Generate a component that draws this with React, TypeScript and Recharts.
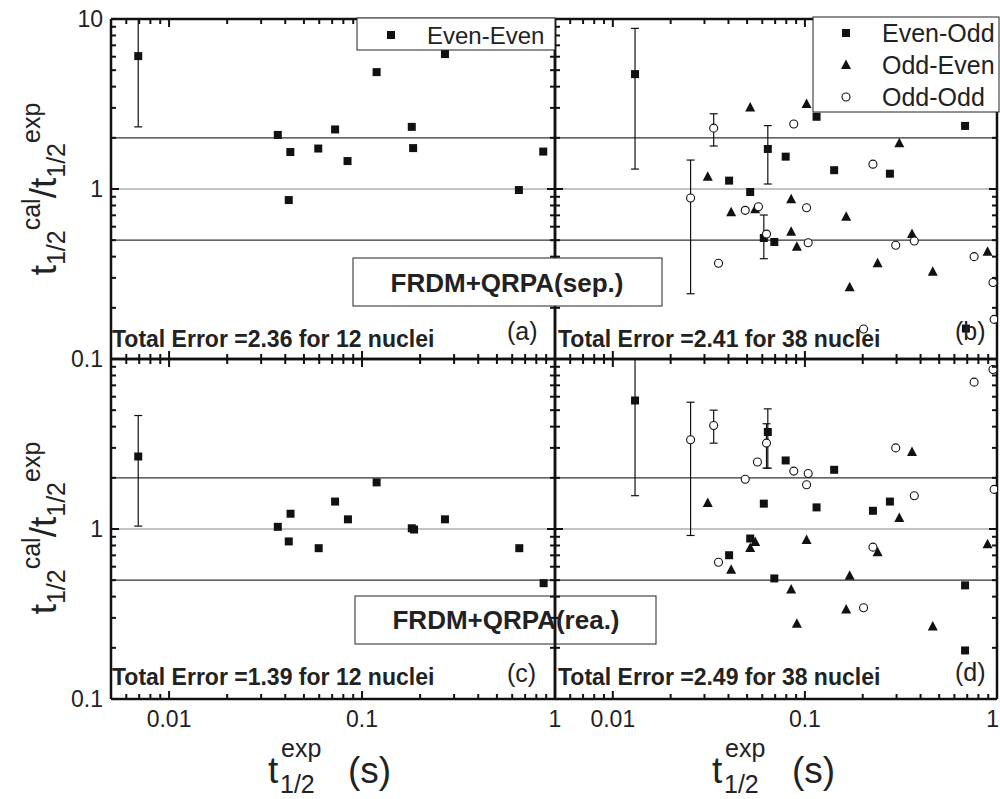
import React from "react";
import { ScatterChart, Scatter, XAxis, YAxis, ReferenceLine, ErrorBar } from "recharts";

const W = 1000;
const H = 799;
const FONT = "'Liberation Sans', Arial, Helvetica, sans-serif";

// axis ticks (log scale, majors get labels)
const X_TICKS = [0.005, 0.006, 0.007, 0.008, 0.009, 0.01, 0.02, 0.03, 0.04, 0.05, 0.06, 0.07, 0.08, 0.09, 0.1, 0.2, 0.3, 0.4, 0.5, 0.6, 0.7, 0.8, 0.9, 1];
const Y_TICKS = [0.1, 0.2, 0.3, 0.4, 0.5, 0.6, 0.7, 0.8, 0.9, 1, 2, 3, 4, 5, 6, 7, 8, 9, 10];
const X_DOMAIN = [0.005, 1];
const Y_DOMAIN = [0.1, 10];
const GUIDES = [2, 1, 0.5];

// [t1/2 exp (s), t_cal / t_exp]
const evenEvenSep = [
  [0.00692, 6.05], [0.0366, 2.08], [0.0425, 1.65], [0.0417, 0.861], [0.0593, 1.73], [0.0725, 2.24], [0.0841, 1.46],
  [0.119, 4.87], [0.181, 2.32], [0.184, 1.74], [0.269, 6.22], [0.65, 0.986], [0.869, 1.66],
];
const evenEvenRea = [
  [0.00692, 2.67], [0.0366, 1.03], [0.0426, 1.23], [0.0417, 0.845], [0.0596, 0.771], [0.0725, 1.45], [0.0845, 1.14],
  [0.119, 1.88], [0.181, 1.01], [0.186, 0.993], [0.269, 1.14], [0.653, 0.771], [0.873, 0.48],
];
const evenOddSep = [
  [0.01305, 4.74], [0.0403, 1.12], [0.0519, 0.96], [0.0641, 1.72], [0.0794, 1.55], [0.115, 2.66], [0.142, 1.29],
  [0.277, 1.23], [0.682, 2.35], [0.0611, 0.515], [0.0693, 0.488], [0.689, 0.151],
];
const oddEvenSep = [
  [0.0312, 1.18], [0.0413, 0.729], [0.0519, 3.02], [0.0551, 0.759], [0.0848, 0.869], [0.0848, 0.561], [0.0908, 0.458],
  [0.102, 3.16], [0.164, 0.687], [0.171, 0.264], [0.239, 0.366], [0.31, 1.86], [0.361, 0.543], [0.463, 0.326], [0.893, 0.428],
];
const oddOddSep = [
  [0.0254, 0.886], [0.0335, 2.28], [0.0355, 0.366], [0.0489, 0.749], [0.0573, 0.787], [0.0631, 0.543], [0.0875, 2.41],
  [0.102, 0.776], [0.104, 0.483], [0.202, 0.15], [0.226, 1.4], [0.297, 0.467], [0.371, 0.494], [0.76, 0.4], [0.953, 0.282], [0.966, 0.171],
];
const evenOddRea = [
  [0.01305, 5.7], [0.0641, 3.72], [0.0794, 2.53], [0.142, 2.23], [0.0611, 1.41], [0.115, 1.34], [0.226, 1.28],
  [0.277, 1.45], [0.0519, 0.879], [0.0403, 0.701], [0.0693, 0.512], [0.682, 0.466], [0.682, 0.193],
];
const oddEvenRea = [
  [0.0312, 1.42], [0.0413, 0.575], [0.0519, 0.774], [0.0551, 0.838], [0.0848, 0.441], [0.0908, 0.277], [0.102, 0.863],
  [0.164, 0.336], [0.171, 0.53], [0.239, 0.731], [0.31, 1.16], [0.361, 2.84], [0.463, 0.267], [0.893, 0.814],
];
const oddOddRea = [
  [0.0254, 3.35], [0.0335, 4.06], [0.0631, 3.2], [0.0566, 2.48], [0.0489, 1.96], [0.0875, 2.19], [0.104, 2.12],
  [0.102, 1.82], [0.0355, 0.638], [0.202, 0.344], [0.226, 0.782], [0.297, 3.0], [0.371, 1.57], [0.76, 7.31], [0.953, 8.67], [0.966, 1.71],
];

// error bars: [x, y, low, high]
const errSepA = [[0.00692, 6.05, 2.32, 10]];
const errReaC = [[0.00692, 2.67, 1.04, 4.65]];
const errSepB = [
  [0.01305, 4.74, 1.31, 8.81], [0.0641, 1.72, 1.07, 2.36], [0.0611, 0.515, 0.389, 0.703],
  [0.0254, 0.886, 0.242, 1.48], [0.0335, 2.28, 1.79, 2.77],
];
const errReaD = [
  [0.01305, 5.7, 1.57, 10], [0.0641, 3.72, 2.28, 5.09], [0.0631, 3.2, 2.28, 4.16],
  [0.0254, 3.35, 0.916, 5.57], [0.0335, 4.06, 3.2, 5.0],
];

const toRows = (pts) => pts.map(([x, y]) => ({ x, y }));
const toErrRows = (pts) => pts.map(([x, y, lo, hi]) => ({ x, y, err: [y - lo, hi - y] }));

const isMajor = (v) => Math.abs(Math.log10(v) - Math.round(Math.log10(v))) < 1e-6;

const Square = (p) => <rect x={p.cx - 4} y={p.cy - 4} width={8} height={8} fill="#111" />;
const Triangle = (p) => (
  <polygon points={`${p.cx},${p.cy - 5.5} ${p.cx - 5},${p.cy + 4} ${p.cx + 5},${p.cy + 4}`} fill="#111" />
);
const Circle = (p) => <circle cx={p.cx} cy={p.cy} r={4} fill="#fff" stroke="#111" strokeWidth={1.1} />;
const Empty = () => <g />;

function XTick(props) {
  const { x, y, payload, dir, labels } = props;
  const v = payload.value;
  const major = isMajor(v);
  // keep the last label inside the page
  const atEdge = x > W - 8;
  return (
    <g>
      <line x1={x} y1={y} x2={x} y2={y + dir * (major ? 8 : 5)} stroke="#111" strokeWidth={2} />
      {labels && major && (
        <text x={atEdge ? W - 1 : x} y={y + 28} textAnchor={atEdge ? "end" : "middle"} fontSize={23} fontFamily={FONT} fill="#222">
          {String(v)}
        </text>
      )}
    </g>
  );
}

function YTick(props) {
  const { x, y, payload, dir, labels } = props;
  const v = payload.value;
  const major = isMajor(v);
  return (
    <g>
      <line x1={x} y1={y} x2={x + dir * (major ? 8 : 5)} y2={y} stroke="#111" strokeWidth={2} />
      {labels && labels.includes(v) && (
        <text x={x - 8} y={y + 8} textAnchor="end" fontSize={23} fontFamily={FONT} fill="#222">
          {String(v)}
        </text>
      )}
    </g>
  );
}

const axisLine = { stroke: "#111", strokeWidth: 2.5 };

// axes are 1px thick so Recharts draws them; margins shrink by that pixel
function Panel({ left, top, width, height, series, errs, xLabels, yLabels }) {
  const margin = { left: left - 1, top: top - 1, right: W - left - width - 1, bottom: H - top - height - 1 };
  return (
    <div style={{ position: "absolute", left: 0, top: 0 }}>
      <ScatterChart width={W} height={H} margin={margin}>
        <XAxis xAxisId="b" dataKey="x" type="number" scale="log" domain={X_DOMAIN} allowDataOverflow
          ticks={X_TICKS} interval={0} height={1} tickSize={0} tickMargin={0} axisLine={axisLine} tickLine={false}
          tick={(p) => <XTick {...p} dir={-1} labels={xLabels} />} />
        <XAxis xAxisId="t" orientation="top" dataKey="x" type="number" scale="log" domain={X_DOMAIN} allowDataOverflow
          ticks={X_TICKS} interval={0} height={1} tickSize={0} tickMargin={0} axisLine={axisLine} tickLine={false}
          tick={(p) => <XTick {...p} dir={1} labels={false} />} />
        <YAxis yAxisId="l" dataKey="y" type="number" scale="log" domain={Y_DOMAIN} allowDataOverflow
          ticks={Y_TICKS} interval={0} width={1} tickSize={0} tickMargin={0} axisLine={axisLine} tickLine={false}
          tick={(p) => <YTick {...p} dir={1} labels={yLabels} />} />
        <YAxis yAxisId="r" orientation="right" dataKey="y" type="number" scale="log" domain={Y_DOMAIN} allowDataOverflow
          ticks={Y_TICKS} interval={0} width={1} tickSize={0} tickMargin={0} axisLine={axisLine} tickLine={false}
          tick={(p) => <YTick {...p} dir={-1} labels={null} />} />
        {GUIDES.map((g) => (
          <ReferenceLine key={g} xAxisId="b" yAxisId="l" y={g} stroke={g === 1 ? "#888" : "#333"} strokeWidth={1.2} />
        ))}
        <Scatter xAxisId="b" yAxisId="l" data={toErrRows(errs)} shape={Empty} isAnimationActive={false}>
          <ErrorBar dataKey="err" direction="y" width={4} stroke="#111" strokeWidth={1.2} />
        </Scatter>
        {series.map((s, i) => (
          <Scatter key={i} xAxisId="b" yAxisId="l" data={toRows(s.data)} shape={s.shape} isAnimationActive={false} />
        ))}
      </ScatterChart>
    </div>
  );
}

function YTitle({ cx, cy }) {
  return (
    <text transform={`translate(${cx},${cy}) rotate(-90)`} textAnchor="middle" fontFamily={FONT} fontSize={37} fill="#222">
      <tspan>t</tspan>
      <tspan fontSize={25} dy={9}>1/2</tspan>
      <tspan fontSize={25} dy={-25}>cal</tspan>
      <tspan dy={16}>/t</tspan>
      <tspan fontSize={25} dy={9}>1/2</tspan>
      <tspan fontSize={25} dy={-25}>exp</tspan>
    </text>
  );
}

function XTitle({ x0 }) {
  return (
    <text fontFamily={FONT} fill="#222">
      <tspan x={x0} y={783} fontSize={37}>t</tspan>
      <tspan x={x0 + 12} y={793} fontSize={25}>1/2</tspan>
      <tspan x={x0 + 13} y={757} fontSize={25}>exp</tspan>
      <tspan x={x0 + 80} y={783} fontSize={37}>(s)</tspan>
    </text>
  );
}

function Overlay() {
  const bold = { fontFamily: FONT, fontWeight: 700, fill: "#222" };
  const reg = { fontFamily: FONT, fill: "#222" };
  return (
    <svg width={W} height={H} style={{ position: "absolute", left: 0, top: 0 }}>
      {/* legend (a) */}
      <rect x={357} y={18} width={198} height={32} fill="#fff" stroke="#222" strokeWidth={1} />
      <Square cx={391} cy={35} />
      <text x={427} y={44} fontSize={24} {...reg}>Even-Even</text>

      {/* legend (b) */}
      <rect x={813} y={17} width={186} height={95} fill="#fff" stroke="#222" strokeWidth={1} />
      <Square cx={846} cy={33} />
      <text x={882} y={42} fontSize={25} {...reg}>Even-Odd</text>
      <Triangle cx={846} cy={65} />
      <text x={882} y={74} fontSize={25} {...reg}>Odd-Even</text>
      <Circle cx={846} cy={97} />
      <text x={882} y={106} fontSize={25} {...reg}>Odd-Odd</text>

      {/* model boxes */}
      <rect x={353} y={258} width={309} height={48} fill="#fff" stroke="#222" strokeWidth={1} />
      <text x={507} y={292} textAnchor="middle" fontSize={26} {...bold}>FRDM+QRPA(sep.)</text>
      <rect x={355} y={596} width={301} height={48} fill="none" stroke="#222" strokeWidth={1} />
      <text x={506} y={629} textAnchor="middle" fontSize={26} {...bold}>FRDM+QRPA(rea.)</text>

      {/* totals and panel tags */}
      <text x={112} y={347} fontSize={23} {...bold}>Total Error =2.36 for 12 nuclei</text>
      <text x={558} y={347} fontSize={23} {...bold}>Total Error =2.41 for 38 nuclei</text>
      <text x={112} y={685} fontSize={23} {...bold}>Total Error =1.39 for 12 nuclei</text>
      <text x={558} y={685} fontSize={23} {...bold}>Total Error =2.49 for 38 nuclei</text>
      <text x={507} y={340} fontSize={25} {...reg}>(a)</text>
      <text x={955} y={340} fontSize={25} {...reg}>(b)</text>
      <text x={507} y={682} fontSize={25} {...reg}>(c)</text>
      <text x={955} y={681} fontSize={25} {...reg}>(d)</text>

      <YTitle cx={56} cy={189} />
      <YTitle cx={56} cy={528} />
      <XTitle x0={268} />
      <XTitle x0={712} />
    </svg>
  );
}

export default function App() {
  return (
    <div style={{ position: "absolute", left: 0, top: 0, width: W, height: H, background: "#fff" }}>
      <Panel left={111} top={19} width={444} height={340}
        series={[{ data: evenEvenSep, shape: Square }]} errs={errSepA} xLabels={false} yLabels={[10, 1, 0.1]} />
      <Panel left={555} top={19} width={442} height={340}
        series={[{ data: evenOddSep, shape: Square }, { data: oddEvenSep, shape: Triangle }, { data: oddOddSep, shape: Circle }]}
        errs={errSepB} xLabels={false} yLabels={null} />
      <Panel left={111} top={359} width={444} height={340}
        series={[{ data: evenEvenRea, shape: Square }]} errs={errReaC} xLabels={true} yLabels={[1, 0.1]} />
      <Panel left={555} top={359} width={442} height={340}
        series={[{ data: evenOddRea, shape: Square }, { data: oddEvenRea, shape: Triangle }, { data: oddOddRea, shape: Circle }]}
        errs={errReaD} xLabels={true} yLabels={null} />
      <Overlay />
    </div>
  );
}
